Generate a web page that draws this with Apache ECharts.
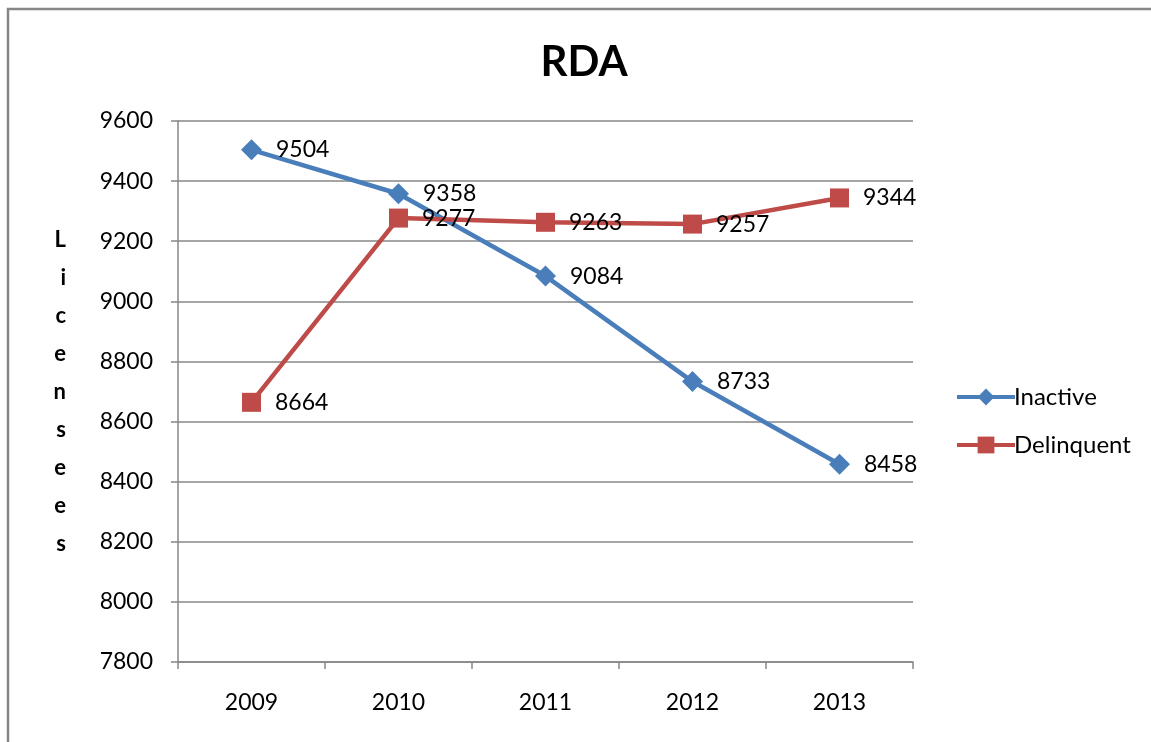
<!DOCTYPE html>
<html><head><meta charset="utf-8">
<script src="https://cdn.jsdelivr.net/npm/echarts@6/dist/echarts.min.js"></script>
<style>html,body{margin:0;padding:0;background:#fff}#c{width:1151px;height:742px}</style>
</head><body><div id="c"></div>
<script>
const categories = ['2009','2010','2011','2012','2013'];
const inactive = [9504, 9358, 9084, 8733, 8458];
const delinquent = [8664, 9277, 9263, 9257, 9344];
const yTicks = { min: 7800, max: 9600, interval: 200 };
const FONT = 'Lato, "Open Sans", sans-serif';
const chart = echarts.init(document.getElementById('c'));
const lbl = { show: true, position: 'right', distance: 14, fontSize: 23, color: '#000', fontFamily: FONT };
chart.setOption({
  animation: false,
  backgroundColor: '#fff',
  graphic: [{ type: 'rect', shape: { x: 8, y: 9, width: 1160, height: 760 }, style: { fill: 'none', stroke: '#878787', lineWidth: 2.5 }, z: -1 }],
  title: { text: 'RDA', left: 579, top: 36, textAlign: 'center', textStyle: { fontSize: 42, fontWeight: 'bold', color: '#000', fontFamily: FONT } },
  legend: {
    orient: 'vertical', left: 950, top: 380, itemWidth: 58, itemHeight: 21, itemGap: 24,
    textStyle: { fontSize: 24, color: '#000', fontFamily: FONT, padding: [0, 0, 0, -6] },
    lineStyle: { width: 4 },
    data: [
      { name: 'Inactive', lineStyle: { width: 4, color: '#4A7EBB' } },
      { name: 'Delinquent', lineStyle: { width: 4, color: '#BE4B48' } }
    ]
  },
  grid: { left: 178, right: 238, top: 121, bottom: 80 },
  xAxis: {
    type: 'category', data: categories, boundaryGap: true,
    axisLine: { lineStyle: { color: '#878787', width: 1.5 } },
    axisTick: { show: true, length: 7, lineStyle: { color: '#878787', width: 1.5 } },
    axisLabel: { fontSize: 23, color: '#000', margin: 29, fontFamily: FONT }
  },
  yAxis: {
    type: 'value', min: yTicks.min, max: yTicks.max, interval: yTicks.interval,
    name: 'Licensees'.split('').join('\n'), nameLocation: 'middle', nameGap: 112, nameRotate: 0,
    nameTextStyle: { fontSize: 22, fontWeight: 'bold', color: '#000', lineHeight: 38, fontFamily: FONT },
    axisLine: { show: true, lineStyle: { color: '#878787', width: 1.5 } },
    axisTick: { show: true, length: 7, lineStyle: { color: '#878787', width: 1.5 } },
    splitLine: { lineStyle: { color: '#878787', width: 1.5 } },
    axisLabel: { fontSize: 23, color: '#000', margin: 25, fontFamily: FONT, formatter: v => String(v) }
  },
  series: [
    { name: 'Inactive', type: 'line', data: inactive, symbol: 'diamond', symbolSize: 21,
      itemStyle: { color: '#4A7EBB' }, lineStyle: { color: '#4A7EBB', width: 4.5 }, label: lbl },
    { name: 'Delinquent', type: 'line', data: delinquent, symbol: 'rect', symbolSize: 19,
      itemStyle: { color: '#BE4B48' }, lineStyle: { color: '#BE4B48', width: 4.5 }, label: lbl }
  ]
});
</script></body></html>
